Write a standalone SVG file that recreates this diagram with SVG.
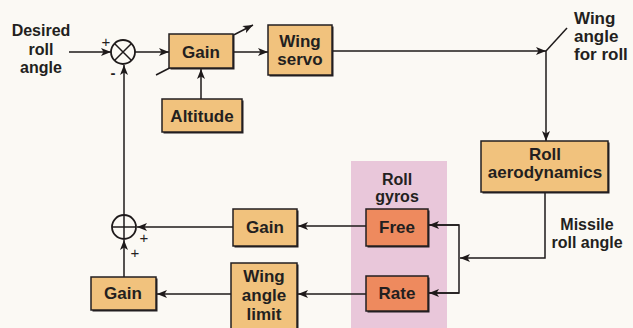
<svg xmlns="http://www.w3.org/2000/svg" width="633" height="328" viewBox="0 0 633 328">
<defs>
<marker id="ah" viewBox="0 0 10 8" refX="10" refY="4" markerWidth="11" markerHeight="8" markerUnits="userSpaceOnUse" orient="auto">
<path d="M0,0 L10,4 L0,8 L2.5,4 Z" fill="#1e1a1a"/>
</marker>
</defs>
<style>
text{font-family:"Liberation Sans",Arial,sans-serif;font-weight:bold;fill:#231f20;}
.lbl{font-size:16px;}
.bx{font-size:17px;text-anchor:middle;}
.box{fill:#f1c27d;stroke:#231f20;stroke-width:1.5;}
.gyro{fill:#ee8a5e;stroke:#231f20;stroke-width:1.5;}
.sh{fill:#231f20;}
.ln{fill:none;stroke:#1e1a1a;stroke-width:1.5;}
.ar{marker-end:url(#ah);}
.pm{font-weight:normal;font-size:15px;text-anchor:middle;}
</style>
<rect width="633" height="328" fill="#fbf9f4"/>
<rect id="gyro-panel" x="351" y="161" width="96" height="167" fill="#e9c7da"/>

<g id="connectors">
<line class="ln ar" x1="69" y1="52" x2="111" y2="52"/>
<line class="ln ar" x1="135" y1="52" x2="169" y2="52"/>
<line class="ln ar" x1="156" y1="75" x2="253" y2="25"/>
<line class="ln ar" x1="233" y1="52" x2="268" y2="52"/>
<line class="ln ar" x1="201" y1="99" x2="201" y2="69"/>
<line class="ln ar" x1="332" y1="51" x2="546" y2="51"/>
<line class="ln" x1="546" y1="51" x2="567" y2="28"/>
<line class="ln ar" x1="546" y1="51" x2="546" y2="141"/>
<path class="ln ar" d="M545,192 V258 H460"/>
<path class="ln" d="M428,225 H459 V293 H428"/>
<line class="ln ar" x1="459" y1="225" x2="429" y2="225"/>
<line class="ln ar" x1="459" y1="293" x2="429" y2="293"/>
<line class="ln ar" x1="366" y1="226" x2="298" y2="226"/>
<line class="ln ar" x1="233" y1="227" x2="137" y2="227"/>
<line class="ln ar" x1="366" y1="294" x2="298" y2="294"/>
<line class="ln ar" x1="231" y1="294" x2="157" y2="294"/>
<line class="ln ar" x1="124" y1="277" x2="124" y2="240"/>
<line class="ln ar" x1="124" y1="215" x2="124" y2="65"/>
</g>

<g id="sum1">
<circle cx="123" cy="52" r="12" fill="#fbf9f4" stroke="#1e1a1a" stroke-width="1.8"/>
<path class="ln" d="M114.5,43.5 L131.5,60.5 M131.5,43.5 L114.5,60.5"/>
<text class="pm" x="106" y="47">+</text>
<text class="pm" x="113" y="78" style="font-weight:bold">-</text>
</g>
<g id="sum2">
<circle cx="124" cy="227" r="12" fill="#fbf9f4" stroke="#1e1a1a" stroke-width="1.8"/>
<path class="ln" d="M112,227 H136 M124,215 V239"/>
<text class="pm" x="144" y="243">+</text>
<text class="pm" x="135" y="258">+</text>
</g>

<g id="desired">
<text class="lbl" x="41" y="36" text-anchor="middle">Desired</text>
<text class="lbl" x="41" y="55" text-anchor="middle">roll</text>
<text class="lbl" x="41" y="73" text-anchor="middle">angle</text>
</g>

<g id="gain1">
<rect class="sh" x="170.5" y="35.5" width="64" height="34"/>
<rect class="box" x="169" y="34" width="64" height="34"/>
<text class="bx" x="201" y="58">Gain</text>
</g>
<g id="altitude">
<rect class="sh" x="163.5" y="100.5" width="80" height="33"/>
<rect class="box" x="162" y="99" width="80" height="33"/>
<text class="bx" x="202" y="122">Altitude</text>
</g>
<g id="wingservo">
<rect class="sh" x="269.5" y="26.5" width="64" height="50"/>
<rect class="box" x="268" y="25" width="64" height="50"/>
<text class="bx" x="300" y="47">Wing</text>
<text class="bx" x="300" y="65">servo</text>
</g>
<g id="wingangle">
<text class="lbl" x="574" y="24" style="font-size:17px">Wing</text>
<text class="lbl" x="574" y="42" style="font-size:17px">angle</text>
<text class="lbl" x="574" y="60" style="font-size:17px">for roll</text>
</g>
<g id="rollaero">
<rect class="sh" x="482.5" y="142.5" width="127" height="51"/>
<rect class="box" x="481" y="141" width="127" height="51"/>
<text class="bx" x="545" y="160">Roll</text>
<text class="bx" x="545" y="178">aerodynamics</text>
</g>
<g id="missile">
<text class="lbl" x="587" y="230" text-anchor="middle">Missile</text>
<text class="lbl" x="587" y="248" text-anchor="middle">roll angle</text>
</g>
<g id="rollgyros">
<text class="bx" x="397" y="185" style="font-size:16px">Roll</text>
<text class="bx" x="397" y="202" style="font-size:16px">gyros</text>
</g>
<g id="free">
<rect class="sh" x="367.5" y="210.5" width="62" height="37"/>
<rect class="gyro" x="366" y="209" width="62" height="37"/>
<text class="bx" x="397" y="233">Free</text>
</g>
<g id="rate">
<rect class="sh" x="367.5" y="277.5" width="62" height="35"/>
<rect class="gyro" x="366" y="276" width="62" height="35"/>
<text class="bx" x="397" y="299">Rate</text>
</g>
<g id="gain2">
<rect class="sh" x="234.5" y="210.5" width="64" height="37"/>
<rect class="box" x="233" y="209" width="64" height="37"/>
<text class="bx" x="265" y="233">Gain</text>
</g>
<g id="wal">
<rect class="sh" x="232.5" y="264.5" width="66" height="66"/>
<rect class="box" x="231" y="263" width="66" height="66"/>
<text class="bx" x="264" y="282">Wing</text>
<text class="bx" x="264" y="301">angle</text>
<text class="bx" x="264" y="320">limit</text>
</g>
<g id="gain3">
<rect class="sh" x="92.5" y="278.5" width="65" height="33"/>
<rect class="box" x="91" y="277" width="65" height="33"/>
<text class="bx" x="123" y="299">Gain</text>
</g>
</svg>
